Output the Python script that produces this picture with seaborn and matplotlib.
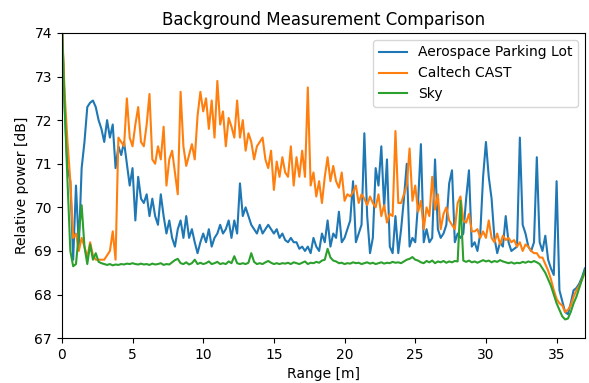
import numpy as np
import pandas as pd
import matplotlib
matplotlib.use("Agg")
import matplotlib.pyplot as plt
import seaborn as sns

# Range bins [m] (0.2 m spacing, 0 .. 37 m)
range_m = np.round(np.arange(186) * 0.2, 1)

aerospace = [
    74.3, 72.3, 70.9, 70.6, 68.8, 70.5, 69.1, 70.9, 71.5, 72.3,
    72.4, 72.45, 72.3, 72.0, 71.8, 71.5, 72.0, 71.6, 71.9, 70.9,
    71.4, 71.2, 71.5, 71.0, 70.5, 70.9, 69.7, 70.7, 70.2, 70.1,
    70.3, 69.8, 70.2, 69.8, 69.6, 70.3, 69.8, 69.4, 69.7, 69.3,
    69.1, 69.5, 69.7, 69.3, 69.8, 69.3, 69.5, 69.2, 68.95, 69.2,
    69.4, 69.2, 69.5, 69.1, 69.3, 69.4, 69.6, 69.4, 69.5, 69.7,
    69.3, 69.7, 69.4, 70.55, 69.8, 70.0, 69.8, 69.6, 69.5, 69.4,
    69.6, 69.4, 69.5, 69.6, 69.5, 69.4, 69.5, 69.3, 69.4, 69.25,
    69.2, 69.3, 69.2, 69.2, 69.05, 69.1, 69.0, 69.1, 68.95, 69.3,
    69.1, 69.0, 69.4, 69.2, 69.7, 69.1, 69.4, 69.3, 69.9, 69.2,
    69.3, 69.5, 69.7, 70.6, 69.2, 69.4, 69.6, 71.7, 69.8, 68.95,
    69.3, 70.9, 70.5, 71.4, 70.0, 71.1, 69.1, 68.95, 69.8, 68.95,
    69.5, 70.2, 71.0, 69.1, 69.3, 69.2, 70.1, 71.45, 69.2, 69.5,
    69.2, 69.3, 71.1, 69.5, 69.3, 69.4, 69.6, 70.55, 70.85, 69.2,
    69.4, 69.3, 69.4, 70.2, 70.85, 69.1, 69.2, 69.0, 69.4, 70.7,
    71.5, 70.7, 70.2, 69.3, 68.95, 69.2, 69.1, 69.8, 69.2, 69.0,
    69.05, 69.1, 71.6, 69.6, 69.4, 69.1, 69.0, 69.2, 71.15, 69.2,
    69.0, 69.35, 68.8, 68.6, 68.45, 70.6, 68.1, 67.85, 67.6, 67.55,
    67.8, 68.1, 68.15, 68.25, 68.4, 68.6,
]

caltech = [
    74.3, 72.6, 71.5, 70.6, 69.3, 69.4, 69.0, 69.3, 69.1, 68.85,
    69.2, 68.9, 68.8, 68.8, 68.8, 68.8, 68.9, 69.0, 69.45, 68.8,
    71.6, 71.5, 71.4, 72.5, 71.6, 71.4, 71.9, 72.3, 71.5, 71.4,
    71.9, 72.6, 71.1, 71.0, 71.4, 71.1, 71.85, 70.5, 71.1, 71.3,
    70.8, 70.3, 72.65, 71.4, 70.95, 71.2, 71.45, 71.1, 72.1, 72.65,
    72.2, 72.5, 71.8, 72.45, 71.6, 72.9, 71.9, 72.2, 71.4, 72.05,
    71.85, 71.6, 72.45, 71.6, 72.0, 71.3, 71.7, 71.5, 71.1, 71.4,
    71.5, 71.6, 71.1, 70.9, 71.3, 70.4, 71.05, 70.7, 71.15, 70.8,
    70.7, 71.4, 70.5, 71.15, 70.7, 71.3, 70.7, 72.75, 70.5, 70.8,
    70.25, 70.6, 70.1, 70.7, 71.15, 70.6, 70.95, 70.6, 70.45, 70.8,
    70.15, 70.3, 70.25, 70.35, 70.5, 70.1, 70.3, 70.2, 70.05, 70.25,
    70.1, 70.0, 70.3, 69.8, 70.05, 69.65, 69.85, 69.8, 71.75, 70.1,
    70.1, 70.3, 70.5, 71.35, 70.15, 70.5, 69.9, 70.15, 69.5, 70.0,
    69.8, 70.7, 69.95, 70.3, 69.5, 69.85, 70.0, 69.7, 69.6, 69.5,
    70.1, 70.25, 69.7, 69.65, 69.85, 69.45, 69.45, 69.5, 69.3, 69.45,
    69.3, 69.7, 69.3, 69.2, 69.4, 69.15, 69.35, 69.25, 69.3, 69.2,
    69.25, 69.1, 69.2, 69.0, 69.15, 69.1, 69.0, 68.95, 68.95, 68.85,
    68.85, 68.7, 68.55, 68.35, 68.1, 67.9, 67.8, 67.75, 67.6, 67.65,
    67.75, 67.95, 68.1, 68.2, 68.35, 68.5,
]

sky = [
    74.3, 72.3, 70.6, 69.0, 68.65, 68.7, 69.4, 70.05, 69.1, 68.7,
    69.15, 68.8, 68.95, 68.75, 68.72, 68.70, 68.68, 68.70, 68.67, 68.69,
    68.68, 68.70, 68.69, 68.71, 68.70, 68.72, 68.70, 68.69, 68.71, 68.69,
    68.70, 68.68, 68.71, 68.69, 68.70, 68.72, 68.68, 68.70, 68.69, 68.74,
    68.79, 68.82, 68.72, 68.70, 68.74, 68.69, 68.72, 68.80, 68.70, 68.73,
    68.70, 68.72, 68.76, 68.70, 68.72, 68.75, 68.70, 68.72, 68.70, 68.76,
    68.72, 68.88, 68.72, 68.70, 68.72, 68.70, 68.73, 68.95, 68.75, 68.70,
    68.72, 68.70, 68.74, 68.77, 68.73, 68.70, 68.72, 68.70, 68.72, 68.71,
    68.73, 68.70, 68.74, 68.72, 68.70, 68.73, 68.76, 68.70, 68.73, 68.72,
    68.75, 68.73, 68.78, 68.80, 69.05, 68.85, 68.78, 68.76, 68.72, 68.73,
    68.70, 68.72, 68.71, 68.74, 68.72, 68.73, 68.70, 68.72, 68.74, 68.71,
    68.73, 68.70, 68.72, 68.74, 68.71, 68.73, 68.72, 68.75, 68.73, 68.74,
    68.72, 68.76, 68.80, 68.82, 68.86, 68.80, 68.78, 68.74, 68.72, 68.77,
    68.74, 68.78, 68.72, 68.76, 68.74, 68.77, 68.73, 68.76, 68.74, 68.77,
    68.76, 70.15, 68.78, 68.75, 68.78, 68.74, 68.76, 68.73, 68.76, 68.79,
    68.76, 68.78, 68.74, 68.77, 68.75, 68.79, 68.76, 68.74, 68.72, 68.74,
    68.71, 68.73, 68.72, 68.75, 68.73, 68.76, 68.74, 68.77, 68.74, 68.70,
    68.60, 68.50, 68.35, 68.20, 68.00, 67.80, 67.65, 67.50, 67.43, 67.45,
    67.60, 67.80, 67.95, 68.15, 68.35, 68.55,
]

series_names = ["Aerospace Parking Lot", "Caltech CAST", "Sky"]
series_values = [aerospace, caltech, sky]
colors = ["#1f77b4", "#ff7f0e", "#2ca02c"]

fig, ax = plt.subplots(figsize=(5.89, 3.83), dpi=100)
for name, vals, col in zip(series_names, series_values, colors):
    df = pd.DataFrame({"range": range_m, "power": vals})
    sns.lineplot(data=df, x="range", y="power", ax=ax, color=col,
                 label=name, linewidth=1.5, sort=False, estimator=None)

ax.set_xlim(0, 37)
ax.set_ylim(67, 74)
ax.set_title("Background Measurement Comparison", fontsize=12)
ax.set_xlabel("Range [m]")
ax.set_ylabel("Relative power [dB]")
ax.legend(loc="upper right")
fig.subplots_adjust(left=0.105, right=0.993, top=0.914, bottom=0.117)
fig.savefig("out.png", dpi=100)
